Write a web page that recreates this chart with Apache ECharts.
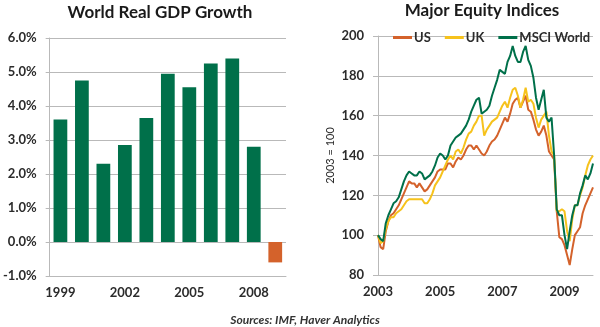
<!DOCTYPE html>
<html>
<head>
<meta charset="utf-8">
<script src="https://cdn.jsdelivr.net/npm/echarts@6/dist/echarts.min.js"></script>
<style>
html,body{margin:0;padding:0;background:#fff;}
#c{width:600px;height:327px;}
</style>
</head>
<body>
<div id="c"></div>
<script>
// Left chart: World Real GDP Growth (%)
var gdpYears = ['1999','2000','2001','2002','2003','2004','2005','2006','2007','2008','2009'];
var gdpValues = [3.6, 4.75, 2.3, 2.85, 3.65, 4.95, 4.55, 5.25, 5.4, 2.8, -0.6];
var gdpTicks = [-1, 0, 1, 2, 3, 4, 5, 6];

// Right chart: Major Equity Indices (2003 = 100), monthly Jan 2003 - Dec 2009
var months = [];
for (var y = 2003; y <= 2009; y++) { for (var mo = 1; mo <= 12; mo++) { months.push(y + '-' + (mo < 10 ? '0' + mo : mo)); } }
var usValues = [
100,94,93,102,107,110,111,113,115,118,121,124,
127,126,126,124,126,124,122,123,125,127,129,132,
133,133,133,136,136,134,137,139,138,140,143,145,
145,143,145,143,141,140,142,145,147,148,150,153,
156,159,157,161,166,168,169,164,167,170,163,162,
158,153,150,152,155,150,142,140,138,112,99,98,
95,90,85,93,100,102,104,111,115,118,121,124];
var ukValues = [
100,96,97,103,107,109,109,111,112,113,115,117,
118,118,118,118,118,118,116,116,118,121,125,127,
129,132,135,138,140,138,142,143,141,144,148,151,
152,155,157,160,160,150,153,155,157,158,159,162,
165,167,164,169,173,174,170,164,168,174,167,168,
166,159,154,158,160,162,150,142,140,112,112,113,
112,102,97,108,115,115,120,124,130,135,138,140];
var msciValues = [
100,98,97,106,110,113,116,117,119,123,127,130,
132,131,130,130,132,131,128,129,130,132,135,139,
141,140,138,140,145,147,149,150,151,153,155,158,
162,165,168,169,161,162,163,165,170,174,178,183,
182,181,187,190,195,190,187,187,192,195,188,185,
179,169,163,168,173,159,157,159,140,113,110,110,
100,93,102,110,115,115,121,125,130,128,131,136];
var eqTicks = [80, 100, 120, 140, 160, 180, 200];

var GREEN = '#00704A', ORANGE = '#D4622B', GOLD = '#F6C21C';
var FONT = 'Lato, "Open Sans", sans-serif';
var TXT = '#2b2b2b';
var GRIDC = '#b9b9b9';

var chart = echarts.init(document.getElementById('c'), null, {renderer: 'canvas'});

var axisLabelStyle = {color: TXT, fontFamily: FONT, fontWeight: 'bold', fontSize: 13};

var option = {
  animation: false,
  backgroundColor: '#fff',
  graphic: [
    {type: 'text', x: 160, y: 13, style: {text: 'World Real GDP Growth', font: 'bold 17px ' + FONT, fill: '#1a1a1a', align: 'center', verticalAlign: 'middle', textAlign: 'center', textVerticalAlign: 'middle'}},
    {type: 'text', x: 482, y: 11, style: {text: 'Major Equity Indices', font: 'bold 17px ' + FONT, fill: '#1a1a1a', align: 'center', verticalAlign: 'middle', textAlign: 'center', textVerticalAlign: 'middle'}},
    {type: 'text', x: 305, y: 320, style: {text: 'Sources: IMF, Haver Analytics', font: 'italic bold 12px ' + FONT, fill: '#333', align: 'center', verticalAlign: 'middle', textAlign: 'center', textVerticalAlign: 'middle'}}
  ],
  legend: {
    data: ['US', 'UK', 'MSCI World'],
    left: 388, top: 26,
    icon: 'rect', itemWidth: 19, itemHeight: 3, itemGap: 14,
    textStyle: {color: TXT, fontFamily: FONT, fontWeight: 'bold', fontSize: 13, padding: [0, 0, 0, -3]}
  },
  grid: [
    {left: 46, top: 38, width: 240, height: 238, containLabel: false},
    {left: 378, top: 36, width: 215, height: 239, containLabel: false}
  ],
  xAxis: [
    {
      gridIndex: 0, type: 'category', data: gdpYears,
      axisLine: {onZero: false, lineStyle: {color: GRIDC}},
      axisTick: {show: false},
      axisLabel: Object.assign({interval: 2, margin: 10}, axisLabelStyle),
      splitLine: {show: false}
    },
    {
      gridIndex: 1, type: 'category', data: months, boundaryGap: false,
      axisLine: {onZero: false, lineStyle: {color: GRIDC}},
      axisTick: {show: false},
      axisLabel: Object.assign({interval: 23, margin: 10, formatter: function (v) { return v.slice(0, 4); }}, axisLabelStyle),
      splitLine: {show: false}
    }
  ],
  yAxis: [
    {
      gridIndex: 0, type: 'value', min: gdpTicks[0], max: gdpTicks[gdpTicks.length - 1], interval: 1,
      axisLine: {show: true, lineStyle: {color: GRIDC}},
      axisTick: {show: true, length: 4, lineStyle: {color: GRIDC}},
      axisLabel: Object.assign({margin: 13, formatter: function (v) { return v.toFixed(1) + '%'; }}, axisLabelStyle),
      splitLine: {show: true, lineStyle: {color: GRIDC, width: 1}}
    },
    {
      gridIndex: 1, type: 'value', min: eqTicks[0], max: eqTicks[eqTicks.length - 1], interval: 20,
      name: '2003 = 100', nameLocation: 'middle', nameGap: 42, nameRotate: 90,
      nameTextStyle: {color: TXT, fontFamily: FONT, fontSize: 11},
      axisLine: {show: true, lineStyle: {color: GRIDC}},
      axisTick: {show: true, length: 5, lineStyle: {color: GRIDC}},
      axisLabel: Object.assign({margin: 14}, axisLabelStyle),
      splitLine: {show: true, lineStyle: {color: GRIDC, width: 1}}
    }
  ],
  series: [
    {
      name: 'GDP', type: 'bar', xAxisIndex: 0, yAxisIndex: 0,
      barCategoryGap: '36%',
      data: gdpValues.map(function (v) { return {value: v, itemStyle: {color: v < 0 ? ORANGE : GREEN}}; })
    },
    {name: 'US', type: 'line', xAxisIndex: 1, yAxisIndex: 1, data: usValues, showSymbol: false, symbol: 'none', lineStyle: {color: ORANGE, width: 2}, itemStyle: {color: ORANGE}, z: 3},
    {name: 'UK', type: 'line', xAxisIndex: 1, yAxisIndex: 1, data: ukValues, showSymbol: false, symbol: 'none', lineStyle: {color: GOLD, width: 2}, itemStyle: {color: GOLD}, z: 4},
    {name: 'MSCI World', type: 'line', xAxisIndex: 1, yAxisIndex: 1, data: msciValues, showSymbol: false, symbol: 'none', lineStyle: {color: GREEN, width: 2}, itemStyle: {color: GREEN}, z: 5}
  ]
};
chart.setOption(option);
</script>
</body>
</html>
